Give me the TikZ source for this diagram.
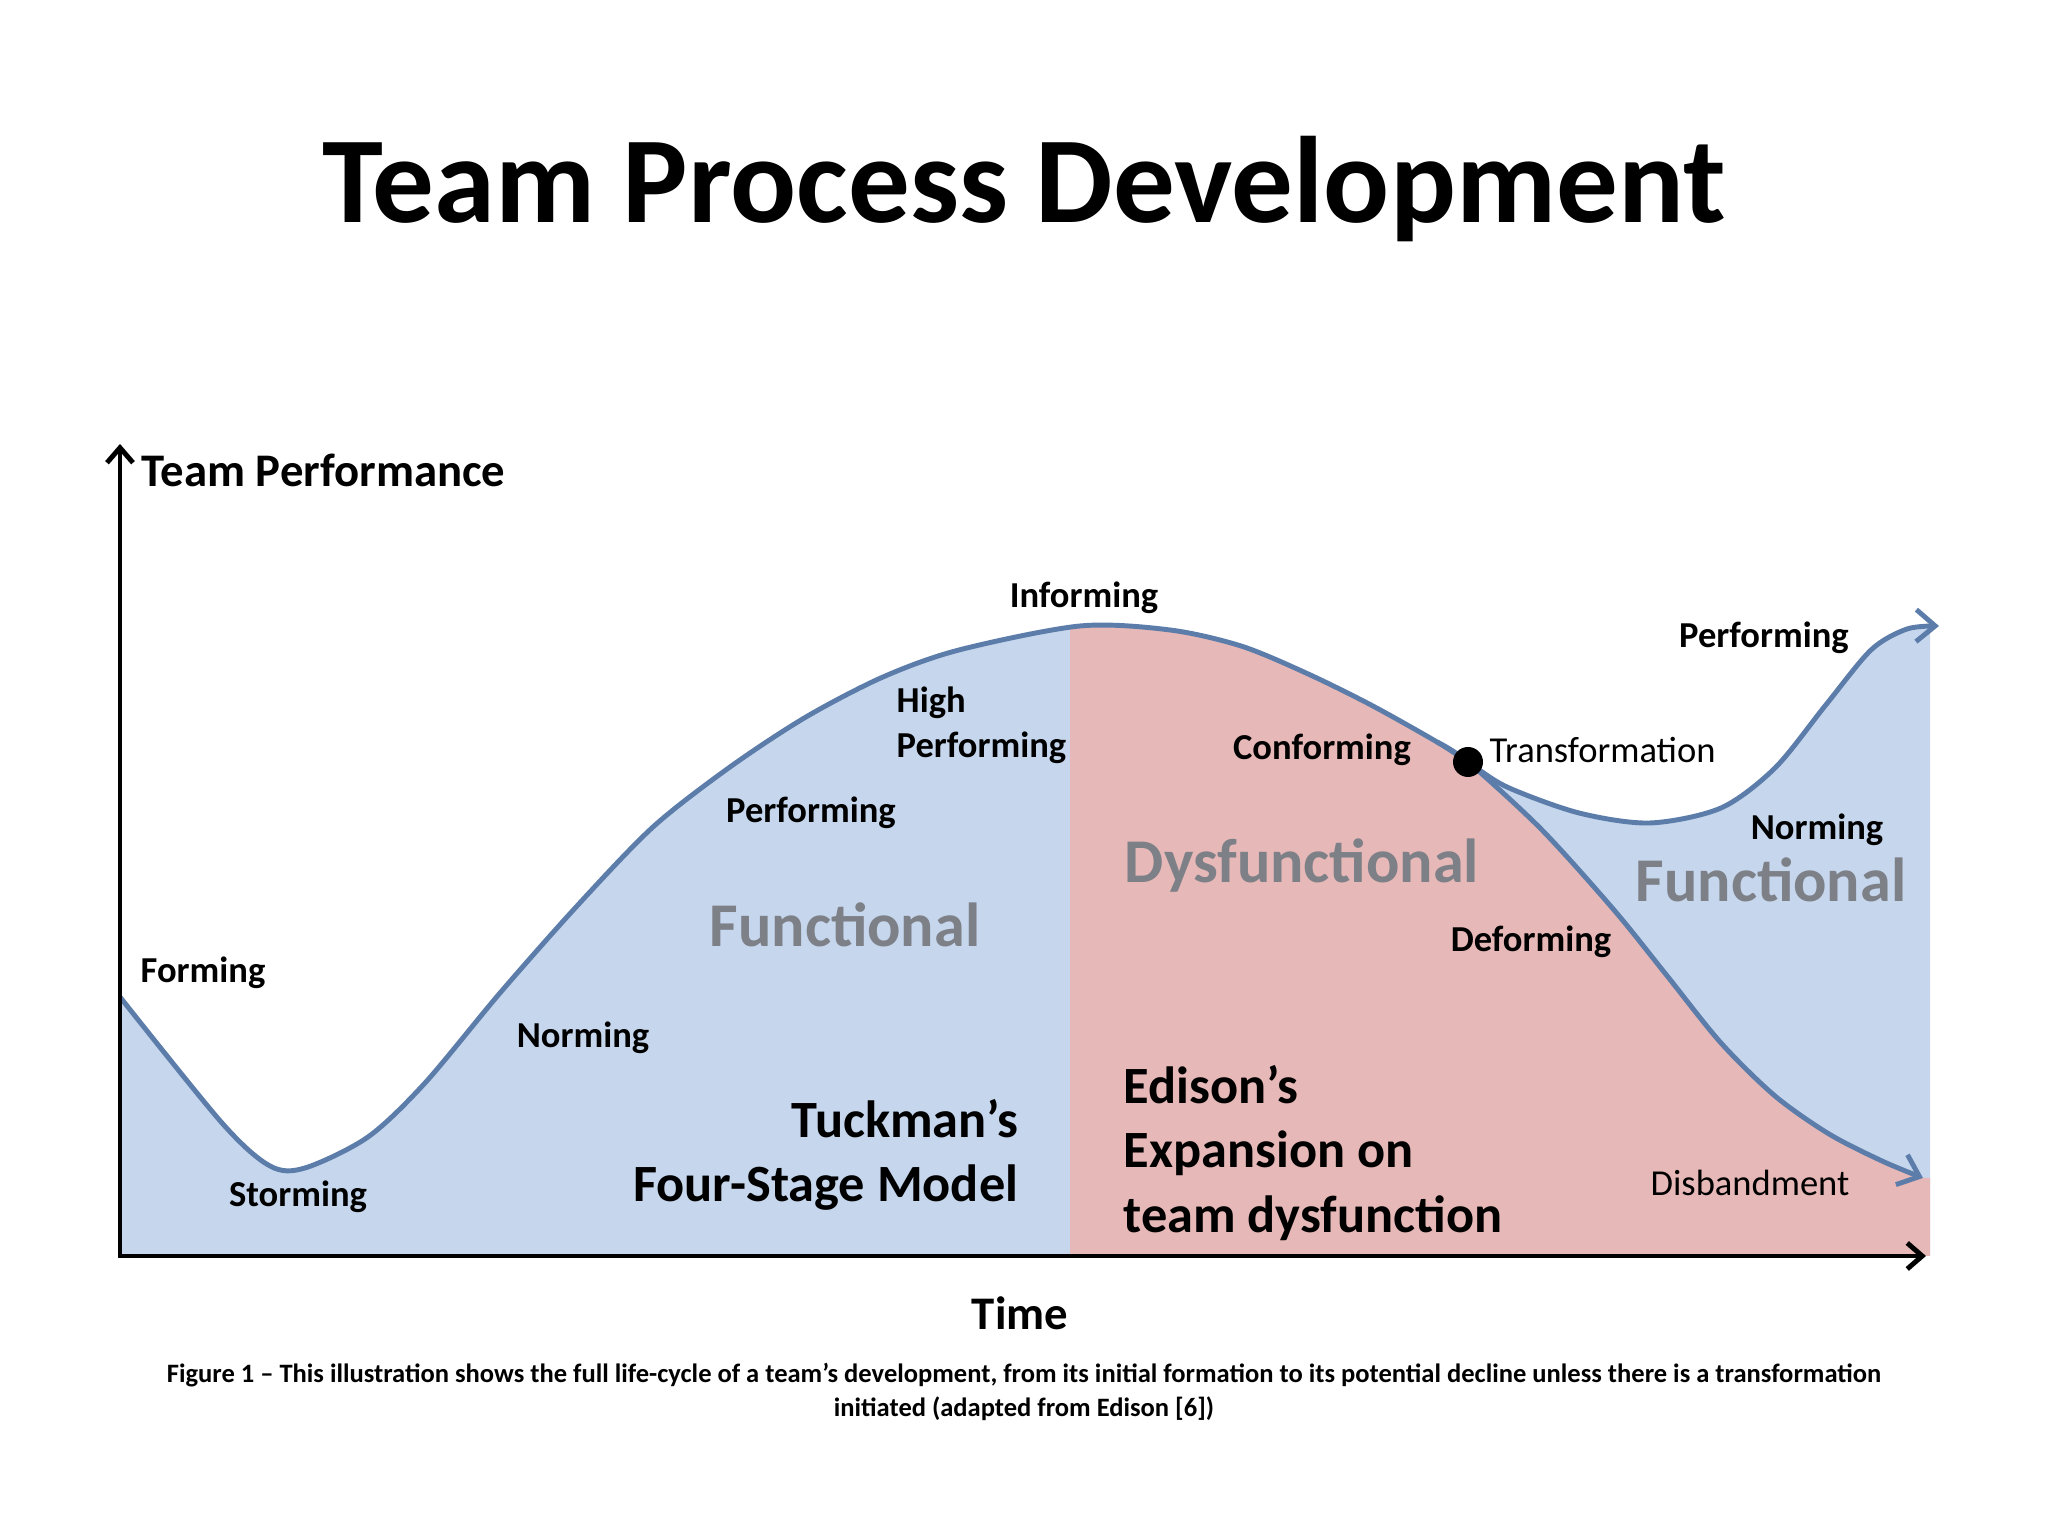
\documentclass[tikz,border=0pt]{standalone}
\usepackage{fontspec}
\setmainfont{Carlito}
\usepackage{tikz}
\usetikzlibrary{arrows,arrows.meta}
\usetikzlibrary{positioning,calc}
\definecolor{perfBlue}{RGB}{197,214,237}
\definecolor{dysPink}{RGB}{230,184,183}
\definecolor{curveBlue}{RGB}{92,125,170}
\definecolor{zoneGray}{RGB}{125,128,135}
\tikzset{axisLine/.style={{Straight Barb[length=1.5mm,width=2.6mm]}-{Straight Barb[length=1.5mm,width=2.6mm]},line width=1.4pt,color=black},
		perfCurve/.style={line width=1.4pt,color=curveBlue,line join=round},
		perfCurveT/.style={perfCurve,-{Straight Barb[length=1.9mm,width=3.2mm]}},
		stage/.style={inner sep=0pt,font=\bfseries\fontsize{10.4}{12.8}\selectfont},
		stageLight/.style={inner sep=0pt,font=\fontsize{10.4}{12.8}\selectfont},
		zone/.style={inner sep=0pt,text=zoneGray,font=\bfseries\fontsize{17.7}{21}\selectfont},
		model/.style={inner sep=0pt,font=\bfseries\fontsize{14.9}{18.3}\selectfont},
		axisLabel/.style={inner sep=0pt,font=\bfseries\fontsize{13.3}{16}\selectfont},
		heading/.style={inner sep=0pt,font=\bfseries\fontsize{35}{42}\selectfont},
		figCaption/.style={inner sep=0pt,align=center,font=\bfseries\fontsize{7.55}{9.7}\selectfont},
		transDot/.style={circle,fill=black,inner sep=0pt,minimum size=0.3cm},
		every node/.style={align=center}}

\begin{document}
\begin{tikzpicture}
	\fill[white] (0,0) rectangle (20.48,15.36);
	\coordinate (O) at (1.20,2.80);
	\coordinate (yEnd) at (1.20,10.92);
	\coordinate (xEnd) at (19.26,2.80);
	%curve points
	\coordinate (s0) at (1.20,5.39);
	\coordinate (s1) at (2.22,4.13);
	\coordinate (s2) at (2.70,3.70);
	\coordinate (s3) at (3.05,3.68);
	\coordinate (s4) at (3.68,3.99);
	\coordinate (s5) at (4.25,4.53);
	\coordinate (s6) at (5.00,5.43);
	\coordinate (s7) at (5.77,6.30);
	\coordinate (s8) at (6.53,7.09);
	\coordinate (s9) at (7.30,7.69);
	\coordinate (s10) at (8.06,8.19);
	\coordinate (s11) at (8.83,8.59);
	\coordinate (s12) at (9.59,8.86);
	\coordinate (peak) at (10.80,9.10);
	\coordinate (m1) at (11.70,9.06);
	\coordinate (m2) at (12.41,8.90);
	\coordinate (m3) at (13.06,8.63);
	\coordinate (m4) at (13.71,8.31);
	\coordinate (m5) at (14.37,7.94);
	\coordinate (d) at (14.68,7.74);
	\coordinate (u1) at (15.07,7.49);
	\coordinate (u2) at (15.79,7.23);
	\coordinate (u3) at (16.50,7.13);
	\coordinate (u4) at (17.21,7.28);
	\coordinate (u5) at (17.75,7.68);
	\coordinate (u6) at (18.25,8.30);
	\coordinate (u7) at (18.71,8.86);
	\coordinate (u8) at (19.07,9.07);
	\coordinate (uEnd) at (19.39,9.10);
	\coordinate (l1) at (15.41,7.07);
	\coordinate (l2) at (16.14,6.26);
	\coordinate (l3) at (16.68,5.59);
	\coordinate (l4) at (17.21,4.93);
	\coordinate (l5) at (17.75,4.40);
	\coordinate (l6) at (18.29,4.02);
	\coordinate (l7) at (18.82,3.75);
	\coordinate (lEnd) at (19.23,3.58);

	%zones
	\begin{scope}
		\clip (O) rectangle (19.30,11);
		\fill[perfBlue] (O) -- plot[smooth] coordinates {(s0) (s1) (s2) (s3) (s4) (s5) (s6) (s7) (s8) (s9) (s10) (s11) (s12) (peak) (m1) (m2) (m3) (m4) (m5) (d) (u1) (u2) (u3) (u4) (u5) (u6) (u7) (u8) (uEnd)} -- (19.39,2.80) -- cycle;
	\end{scope}
	\begin{scope}
		\clip (10.70,2.80) rectangle (19.30,11);
		\fill[dysPink] (s12 |- O) -- plot[smooth] coordinates {(s12) (peak) (m1) (m2) (m3) (m4) (m5) (d) (l1) (l2) (l3) (l4) (l5) (l6) (l7) (lEnd)} -- (19.30,3.58) -- (19.30,2.80) -- cycle;
	\end{scope}

	\draw[perfCurveT] plot[smooth] coordinates {(s0) (s1) (s2) (s3) (s4) (s5) (s6) (s7) (s8) (s9) (s10) (s11) (s12) (peak) (m1) (m2) (m3) (m4) (m5) (d) (u1) (u2) (u3) (u4) (u5) (u6) (u7) (u8) (uEnd)};
	\draw[perfCurveT] plot[smooth] coordinates {(m5) (d) (l1) (l2) (l3) (l4) (l5) (l6) (l7) (lEnd)};
	\draw[axisLine] (yEnd) -- (O) -- (xEnd);
	\node at (d) [transDot] (T){};

	\node at (10.24,13.47) [heading] (title){Team Process Development};
	\node at (1.41,10.66) [axisLabel,anchor=west] (perf){Team Performance};
	\node at (10.20,2.23) [axisLabel] (time){Time};
	\node at (10.24,1.44) [figCaption] (cap){Figure 1 -- This illustration shows the full life-cycle of a team’s development, from its initial formation to its potential decline unless there is a transformation\\initiated (adapted from Edison [6])};

	\node at (1.40,5.63) [stage,anchor=west] (forming){Forming};
	\node at (2.98,3.39) [stage] (storming){Storming};
	\node at (5.83,4.98) [stage] (norming){Norming};
	\node at (8.11,7.23) [stage] (performing){Performing};
	\node at (8.96,8.11) [stage,anchor=west,align=left] (high){High\\Performing};
	\node at (10.84,9.38) [stage] (informing){Informing};
	\node at (13.22,7.86) [stage] (conforming){Conforming};
	\node at (14.89,7.86) [stageLight,anchor=west] (transf){Transformation};
	\node at (17.64,8.98) [stage] (reperforming){Performing};
	\node at (18.17,7.06) [stage] (renorming){Norming};
	\node at (15.31,5.94) [stage] (deforming){Deforming};
	\node at (17.50,3.53) [stageLight] (disband){Disbandment};
	%zone names
	\node at (8.45,6.11) [zone] (func){Functional};
	\node at (13.02,6.70) [zone] (dysfunc){Dysfunctional};
	\node at (17.71,6.56) [zone] (refunc){Functional};
	\node at (10.19,3.81) [model,anchor=east,align=right] (tuckman){Tuckman’s\\Four-Stage Model};
	\node at (11.23,3.83) [model,anchor=west,align=left] (edison){Edison’s\\Expansion on\\team dysfunction};
\end{tikzpicture}
\end{document}
